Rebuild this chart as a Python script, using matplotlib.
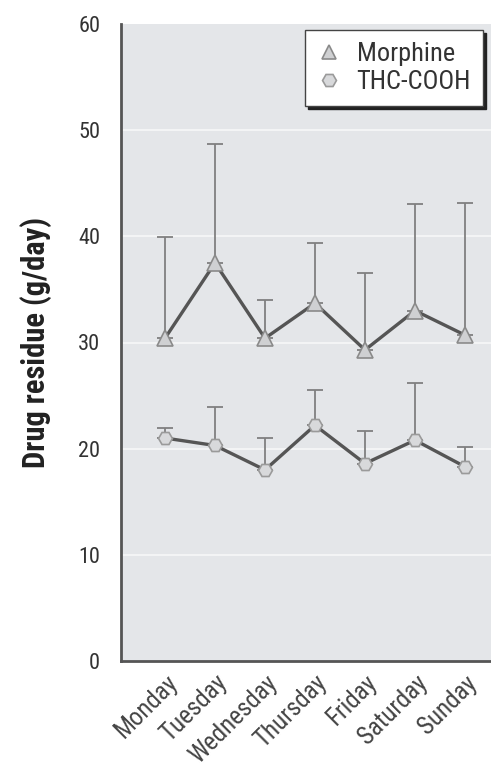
import matplotlib
matplotlib.use("Agg")
import matplotlib.pyplot as plt
from matplotlib import font_manager as fm
import numpy as np

days = ["Monday", "Tuesday", "Wednesday", "Thursday", "Friday", "Saturday", "Sunday"]
morphine = [30.4, 37.5, 30.4, 33.7, 29.3, 33.0, 30.7]
morphine_top = [39.9, 48.7, 34.0, 39.4, 36.5, 43.0, 43.1]
thc = [21.0, 20.3, 18.0, 22.2, 18.6, 20.8, 18.3]
thc_top = [21.9, 23.9, 21.0, 25.5, 21.7, 26.2, 20.2]
yticks = [0, 10, 20, 30, 40, 50, 60]

available = set(f.name for f in fm.fontManager.ttflist)
family = None
for cand in ['Roboto Condensed', 'Liberation Sans Narrow', 'Arial Narrow',
             'Fira Sans Condensed', 'Barlow Semi Condensed']:
    if cand in available:
        family = cand
        break
if family is None:
    plt.rcParams['font.family'] = ['DejaVu Sans']
    plt.rcParams['font.stretch'] = 'condensed'
else:
    plt.rcParams['font.family'] = [family, 'DejaVu Sans']

fig = plt.figure(figsize=(4.91, 7.78), dpi=100)
ax = fig.add_axes([121/491, 1 - 661/778, 1 - 121/491, (661 - 24)/778])
ax.set_facecolor('#e4e6e9')

x = np.arange(len(days))
m = np.array(morphine); mt = np.array(morphine_top)
t = np.array(thc); tt = np.array(thc_top)

for yv in yticks[1:-1]:
    ax.axhline(yv, color='#f3f4f5', lw=1.5, zorder=1)

ax.errorbar(x, m, yerr=[np.zeros_like(m), mt - m], fmt='none', ecolor='#808080',
            elinewidth=1.3, capsize=6, capthick=1.3, zorder=2)
ax.errorbar(x, t, yerr=[np.zeros_like(t), tt - t], fmt='none', ecolor='#808080',
            elinewidth=1.3, capsize=6, capthick=1.3, zorder=2)

ax.plot(x, m, color='#555555', lw=2.4, marker='^', markersize=11,
        markerfacecolor='#cfd0d2', markeredgecolor='#8a8a8a', markeredgewidth=1.2,
        label='Morphine', zorder=3)
ax.plot(x, t, color='#555555', lw=2.4, marker='H', markersize=10,
        markerfacecolor='#d8d9db', markeredgecolor='#9a9a9a', markeredgewidth=1.2,
        label='THC-COOH', zorder=3)

ax.set_xlim(-0.88, 6.52)
ax.set_ylim(0, 60)
ax.set_yticks(yticks)
ax.set_yticklabels([str(v) for v in yticks], fontsize=16, color='#333333')
ax.set_xticks(x)
ax.set_xticklabels(days, rotation=45, ha='right', rotation_mode='anchor',
                   fontsize=18, color='#444444')
ax.tick_params(axis='y', length=0, pad=15)
ax.tick_params(axis='x', length=0, pad=7)

for s in ['top', 'right']:
    ax.spines[s].set_visible(False)
ax.spines['left'].set_color('#555555')
ax.spines['left'].set_linewidth(2)
ax.spines['bottom'].set_color('#555555')
ax.spines['bottom'].set_linewidth(2)

ax.set_ylabel('Drug residue (g/day)', fontsize=22, fontweight='bold', color='#222222')
ax.yaxis.set_label_coords((52 - 121) / 370, 0.5)

leg = ax.legend(loc='upper right', bbox_to_anchor=(0.978, 0.99), borderaxespad=0,
                fontsize=19, frameon=True, fancybox=False,
                shadow={'color': '#222222', 'alpha': 1},
                handlelength=0.9, handletextpad=0.6, borderpad=0.45, labelspacing=0.15)
leg.get_frame().set_edgecolor('#444444')
leg.get_frame().set_facecolor('white')
leg.get_frame().set_linewidth(1.0)
for line in leg.get_lines():
    line.set_linestyle('none')
    line.set_markersize(10)
for txt in leg.get_texts():
    txt.set_color('#333333')

fig.savefig('out.png', dpi=100)
